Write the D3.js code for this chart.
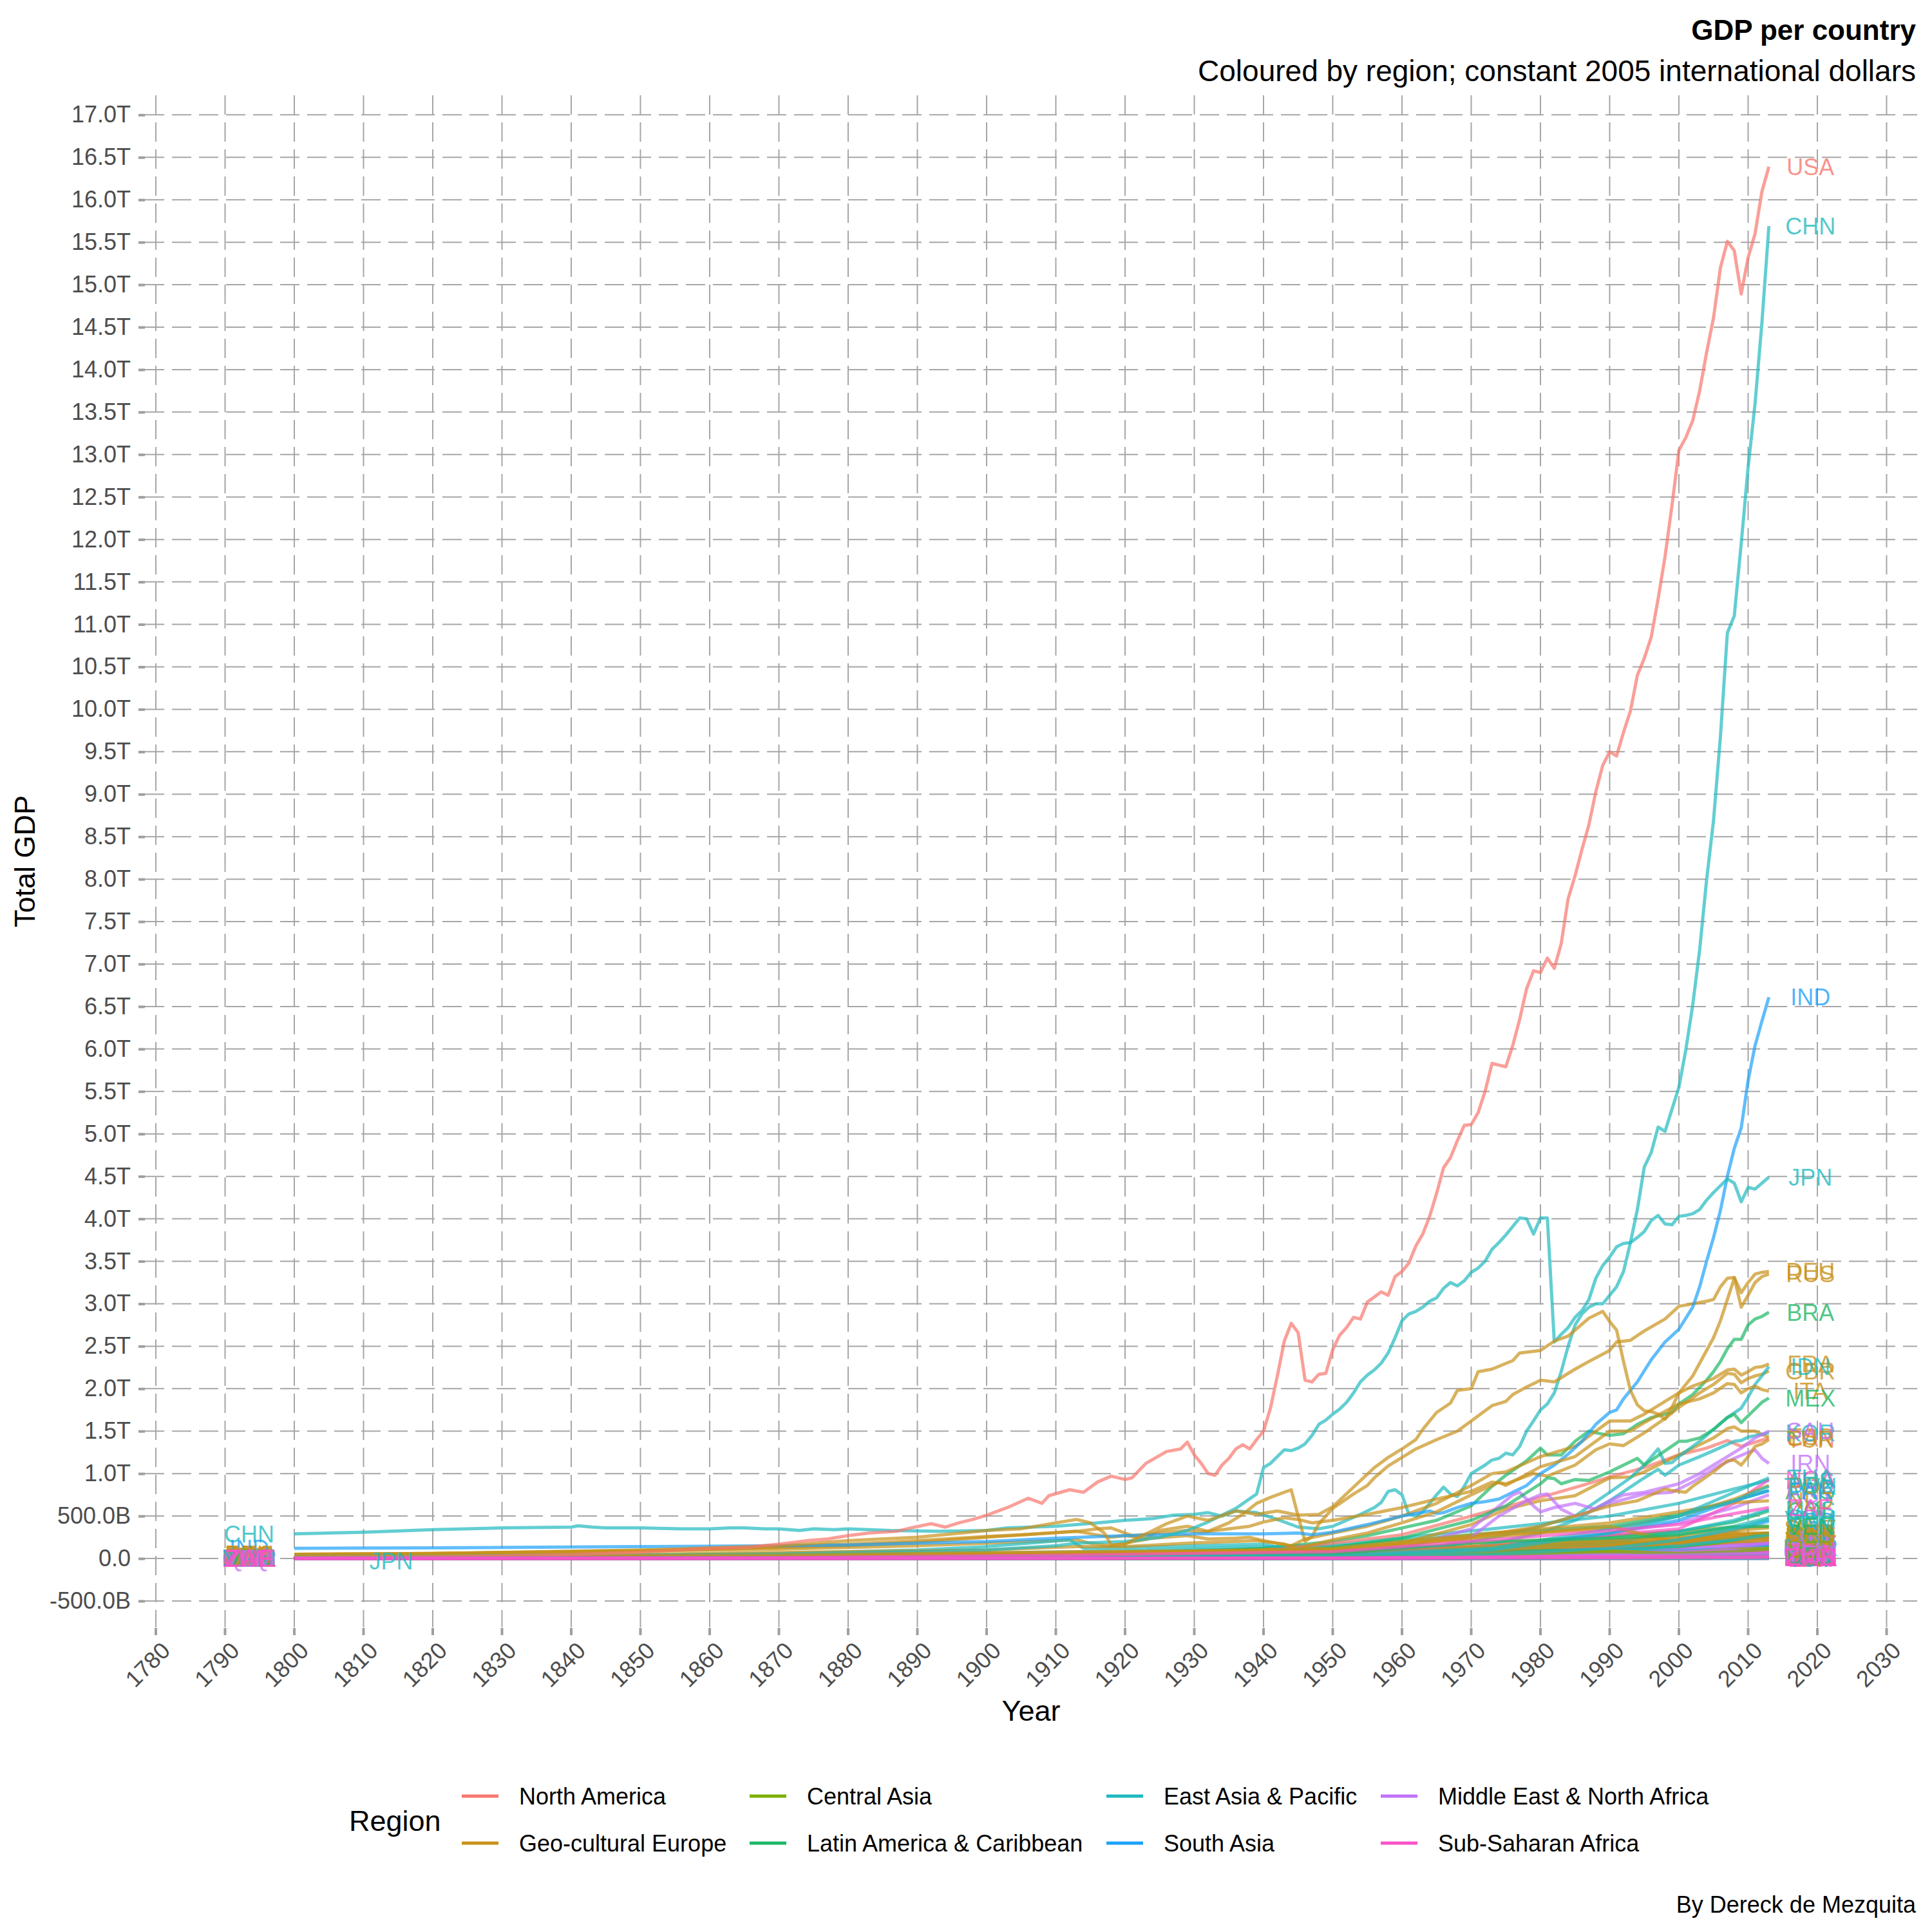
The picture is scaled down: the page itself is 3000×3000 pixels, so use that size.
<!DOCTYPE html>
<html>
<head>
<meta charset="utf-8">
<script src="https://cdn.jsdelivr.net/npm/d3@7"></script>
<style>
    body { margin: 0; background: #ffffff; }
    text { font-family: "Liberation Sans", Arial, Helvetica, sans-serif; }
</style>
</head>
<body>
<div id="chartDiv"></div>
<script>
// Regions (legend order) and their colours
const regionKeys = ["na", "eu", "ca", "la", "ea", "sa", "me", "ssa"];
const regionNames = ["North America", "Geo-cultural Europe", "Central Asia", "Latin America & Caribbean",
    "East Asia & Pacific", "South Asia", "Middle East & North Africa", "Sub-Saharan Africa"];
const regionColors = ["#F8766D", "#C8921A", "#7CAE00", "#1DB865", "#1FB9BF", "#1DA1F9", "#C271FB", "#F952C6"];

// Axis ticks
const yearTicks = d3.range(1780, 2031, 10);
const gdpTicks = d3.range(-1, 35).map(d => d / 2);   // trillions, -0.5 .. 17.0

// Total GDP, trillions of constant 2005 intl dollars: [year, value]
const usa = [[1800,0.012],[1820,0.02],[1840,0.045],[1850,0.075],[1860,0.12],[1865,0.13],[1870,0.17],[1874,0.21],[1877,0.23],[1880,0.27],[1883,0.3],[1887,0.32],[1889,0.36],[1892,0.41],[1894,0.37],[1896,0.42],[1898,0.46],[1900,0.51],[1903,0.6],[1906,0.71],[1908,0.65],[1909,0.74],[1912,0.81],[1914,0.78],[1916,0.9],[1918,0.97],[1920,0.93],[1921,0.95],[1923,1.12],[1926,1.26],[1928,1.29],[1929,1.37],[1930,1.22],[1931,1.12],[1932,1.0],[1933,0.98],[1934,1.1],[1935,1.18],[1936,1.29],[1937,1.34],[1938,1.29],[1939,1.4],[1940,1.5],[1941,1.77],[1942,2.15],[1943,2.56],[1944,2.77],[1945,2.66],[1946,2.1],[1947,2.08],[1948,2.17],[1949,2.18],[1950,2.46],[1951,2.63],[1952,2.72],[1953,2.84],[1954,2.82],[1955,3.02],[1956,3.08],[1957,3.14],[1958,3.1],[1959,3.32],[1960,3.38],[1961,3.48],[1962,3.68],[1963,3.82],[1964,4.03],[1965,4.3],[1966,4.6],[1967,4.72],[1968,4.92],[1969,5.1],[1970,5.11],[1971,5.25],[1972,5.5],[1973,5.83],[1974,5.81],[1975,5.79],[1976,6.04],[1977,6.35],[1978,6.71],[1979,6.92],[1980,6.9],[1981,7.07],[1982,6.95],[1983,7.24],[1984,7.77],[1985,8.04],[1986,8.35],[1987,8.64],[1988,9.03],[1989,9.34],[1990,9.5],[1991,9.45],[1992,9.73],[1993,9.98],[1994,10.4],[1995,10.6],[1996,10.85],[1997,11.3],[1998,11.8],[1999,12.4],[2000,13.05],[2001,13.2],[2002,13.4],[2003,13.75],[2004,14.2],[2005,14.61],[2006,15.2],[2007,15.51],[2008,15.4],[2009,14.89],[2010,15.32],[2011,15.6],[2012,16.1],[2013,16.39]];
const chn = [[1800,0.29],[1810,0.31],[1820,0.34],[1830,0.36],[1840,0.37],[1841,0.385],[1843,0.37],[1845,0.36],[1850,0.36],[1853,0.355],[1856,0.35],[1860,0.35],[1863,0.36],[1865,0.36],[1868,0.35],[1870,0.35],[1873,0.33],[1875,0.35],[1878,0.34],[1880,0.35],[1886,0.33],[1893,0.32],[1900,0.33],[1903,0.36],[1910,0.38],[1916,0.42],[1920,0.45],[1924,0.47],[1927,0.51],[1930,0.52],[1932,0.54],[1934,0.5],[1936,0.56],[1939,0.54],[1942,0.46],[1945,0.37],[1948,0.35],[1950,0.38],[1952,0.45],[1954,0.52],[1956,0.6],[1957,0.66],[1958,0.79],[1959,0.81],[1960,0.75],[1961,0.52],[1962,0.5],[1963,0.55],[1964,0.65],[1965,0.75],[1966,0.84],[1967,0.76],[1968,0.73],[1969,0.85],[1970,1.0],[1971,1.05],[1972,1.1],[1973,1.16],[1974,1.18],[1975,1.24],[1976,1.22],[1977,1.32],[1978,1.5],[1979,1.62],[1980,1.75],[1981,1.82],[1982,1.95],[1983,2.2],[1984,2.5],[1985,2.75],[1986,2.88],[1987,2.96],[1988,3.0],[1989,3.0],[1990,3.1],[1991,3.2],[1992,3.38],[1993,3.72],[1994,4.11],[1995,4.61],[1996,4.78],[1997,5.08],[1998,5.03],[1999,5.29],[2000,5.55],[2001,5.99],[2002,6.52],[2003,7.17],[2004,7.99],[2005,8.69],[2006,9.68],[2007,10.9],[2008,11.1],[2009,11.95],[2010,12.85],[2011,13.6],[2012,14.56],[2013,15.69]];
const jpn = [[1800,0.03],[1850,0.04],[1870,0.05],[1890,0.08],[1900,0.1],[1910,0.15],[1913,0.18],[1920,0.2],[1925,0.25],[1929,0.33],[1932,0.43],[1936,0.59],[1939,0.76],[1940,1.07],[1941,1.12],[1943,1.28],[1944,1.27],[1945,1.3],[1946,1.35],[1947,1.45],[1948,1.58],[1949,1.63],[1950,1.7],[1951,1.76],[1952,1.84],[1953,1.95],[1954,2.08],[1955,2.16],[1956,2.22],[1957,2.3],[1958,2.42],[1959,2.6],[1960,2.8],[1961,2.88],[1962,2.91],[1963,2.96],[1964,3.03],[1965,3.07],[1966,3.18],[1967,3.25],[1968,3.21],[1969,3.27],[1970,3.37],[1971,3.42],[1972,3.5],[1973,3.64],[1974,3.72],[1975,3.81],[1976,3.91],[1977,4.01],[1978,4.0],[1979,3.82],[1980,4.01],[1981,4.01],[1982,2.55],[1983,2.64],[1984,2.72],[1985,2.84],[1986,2.92],[1987,3.05],[1988,3.3],[1989,3.45],[1990,3.55],[1991,3.67],[1992,3.71],[1993,3.72],[1994,3.78],[1995,3.85],[1996,3.98],[1997,4.04],[1998,3.94],[1999,3.93],[2000,4.03],[2001,4.04],[2002,4.06],[2003,4.11],[2004,4.22],[2005,4.31],[2006,4.39],[2007,4.47],[2008,4.42],[2009,4.2],[2010,4.37],[2011,4.35],[2012,4.42],[2013,4.49]];
const ind = [[1800,0.12],[1820,0.125],[1850,0.14],[1870,0.15],[1880,0.16],[1890,0.18],[1900,0.2],[1910,0.24],[1920,0.27],[1930,0.29],[1940,0.29],[1945,0.3],[1947,0.28],[1950,0.31],[1955,0.4],[1960,0.5],[1964,0.56],[1965,0.53],[1966,0.54],[1968,0.6],[1970,0.65],[1972,0.67],[1974,0.7],[1976,0.78],[1978,0.86],[1980,1.0],[1982,1.1],[1984,1.23],[1986,1.38],[1988,1.58],[1990,1.72],[1991,1.75],[1992,1.88],[1994,2.08],[1996,2.34],[1998,2.55],[2000,2.7],[2002,2.96],[2003,3.2],[2004,3.5],[2005,3.78],[2006,4.1],[2007,4.5],[2008,4.83],[2009,5.07],[2010,5.63],[2011,6.04],[2012,6.33],[2013,6.61]];
const rus = [[1800,0.05],[1820,0.06],[1850,0.1],[1870,0.15],[1880,0.21],[1890,0.25],[1900,0.33],[1905,0.35],[1910,0.42],[1913,0.46],[1915,0.42],[1917,0.3],[1918,0.16],[1920,0.17],[1922,0.25],[1926,0.41],[1929,0.5],[1932,0.45],[1936,0.56],[1939,0.52],[1942,0.56],[1945,0.51],[1948,0.52],[1950,0.61],[1953,0.84],[1956,1.07],[1958,1.19],[1960,1.29],[1962,1.4],[1963,1.52],[1965,1.72],[1967,1.83],[1968,1.98],[1970,2.0],[1971,2.2],[1973,2.23],[1976,2.33],[1977,2.42],[1980,2.45],[1982,2.56],[1984,2.62],[1986,2.76],[1987,2.83],[1989,2.91],[1990,2.79],[1991,2.69],[1992,2.32],[1993,1.98],[1994,1.81],[1995,1.74],[1996,1.73],[1997,1.7],[1998,1.64],[1999,1.78],[2000,1.95],[2001,2.05],[2002,2.15],[2003,2.3],[2004,2.45],[2005,2.6],[2006,2.8],[2007,3.05],[2008,3.3],[2009,2.96],[2010,3.1],[2011,3.25],[2012,3.32],[2013,3.35]];
const deu = [[1800,0.05],[1820,0.06],[1850,0.09],[1870,0.13],[1880,0.15],[1890,0.19],[1900,0.25],[1913,0.32],[1918,0.25],[1920,0.27],[1923,0.24],[1925,0.33],[1929,0.38],[1932,0.32],[1935,0.42],[1937,0.52],[1939,0.65],[1941,0.72],[1944,0.81],[1945,0.5],[1946,0.2],[1947,0.26],[1948,0.41],[1950,0.59],[1953,0.76],[1955,0.86],[1956,0.95],[1958,1.09],[1960,1.19],[1962,1.29],[1965,1.4],[1968,1.5],[1970,1.62],[1973,1.8],[1975,1.85],[1976,1.93],[1978,2.02],[1980,2.1],[1982,2.08],[1985,2.23],[1987,2.32],[1990,2.45],[1991,2.55],[1993,2.57],[1995,2.68],[1998,2.82],[2000,2.97],[2002,3.0],[2004,3.03],[2005,3.05],[2006,3.2],[2007,3.3],[2008,3.31],[2009,3.13],[2010,3.25],[2011,3.35],[2012,3.37],[2013,3.38]];
const gbr = [[1800,0.04],[1820,0.05],[1850,0.09],[1870,0.14],[1880,0.17],[1890,0.21],[1900,0.26],[1905,0.28],[1913,0.32],[1916,0.35],[1918,0.36],[1920,0.3],[1921,0.27],[1925,0.3],[1929,0.33],[1931,0.31],[1935,0.35],[1938,0.38],[1940,0.43],[1943,0.48],[1945,0.46],[1947,0.42],[1950,0.45],[1955,0.52],[1960,0.6],[1965,0.7],[1970,0.79],[1973,0.9],[1975,0.88],[1979,1.0],[1981,0.97],[1985,1.1],[1988,1.28],[1990,1.35],[1992,1.33],[1995,1.48],[1998,1.65],[2000,1.78],[2003,1.95],[2005,2.05],[2007,2.18],[2008,2.17],[2009,2.07],[2010,2.12],[2011,2.15],[2012,2.17],[2013,2.21]];
const fra = [[1800,0.05],[1820,0.06],[1850,0.09],[1870,0.11],[1880,0.13],[1890,0.15],[1900,0.18],[1913,0.22],[1915,0.18],[1918,0.15],[1920,0.18],[1924,0.24],[1929,0.27],[1932,0.23],[1936,0.24],[1938,0.25],[1940,0.21],[1944,0.15],[1946,0.23],[1950,0.3],[1955,0.38],[1960,0.5],[1965,0.65],[1970,0.86],[1973,1.0],[1975,1.02],[1980,1.2],[1985,1.32],[1990,1.62],[1993,1.62],[1995,1.7],[2000,1.95],[2002,2.03],[2005,2.12],[2007,2.22],[2008,2.23],[2009,2.16],[2010,2.2],[2011,2.25],[2012,2.26],[2013,2.29]];
const ita = [[1800,0.03],[1850,0.05],[1870,0.07],[1900,0.1],[1913,0.14],[1920,0.14],[1929,0.18],[1939,0.21],[1943,0.17],[1945,0.11],[1947,0.16],[1950,0.22],[1955,0.3],[1960,0.42],[1965,0.55],[1970,0.75],[1974,0.9],[1975,0.86],[1980,1.08],[1985,1.2],[1990,1.5],[1993,1.5],[1995,1.6],[2000,1.82],[2003,1.88],[2005,1.95],[2007,2.06],[2008,2.05],[2009,1.95],[2010,2.0],[2011,2.03],[2012,1.99],[2013,1.97]];
const bra = [[1800,0.012],[1850,0.02],[1900,0.04],[1920,0.06],[1930,0.08],[1940,0.12],[1950,0.2],[1955,0.27],[1960,0.36],[1965,0.45],[1970,0.62],[1973,0.85],[1975,0.98],[1978,1.15],[1980,1.3],[1981,1.22],[1983,1.22],[1985,1.38],[1987,1.5],[1988,1.48],[1990,1.45],[1992,1.47],[1994,1.58],[1996,1.66],[1998,1.7],[1999,1.72],[2000,1.82],[2002,1.93],[2004,2.1],[2005,2.2],[2006,2.32],[2007,2.47],[2008,2.58],[2009,2.58],[2010,2.75],[2011,2.82],[2012,2.85],[2013,2.9]];
const mex = [[1800,0.01],[1870,0.015],[1900,0.03],[1910,0.04],[1920,0.035],[1930,0.05],[1940,0.07],[1950,0.13],[1960,0.24],[1970,0.45],[1975,0.62],[1980,0.88],[1981,0.95],[1982,0.94],[1983,0.88],[1985,0.93],[1987,0.92],[1990,1.02],[1994,1.18],[1995,1.1],[2000,1.38],[2001,1.38],[2003,1.42],[2005,1.52],[2007,1.66],[2008,1.7],[2009,1.6],[2010,1.68],[2011,1.76],[2012,1.84],[2013,1.89]];
const idn = [[1800,0.02],[1850,0.04],[1870,0.06],[1890,0.1],[1900,0.14],[1912,0.22],[1914,0.12],[1920,0.13],[1930,0.15],[1940,0.17],[1945,0.08],[1950,0.09],[1960,0.13],[1966,0.14],[1970,0.2],[1975,0.28],[1980,0.38],[1985,0.5],[1990,0.78],[1993,0.95],[1995,1.1],[1997,1.29],[1998,1.12],[1999,1.13],[2000,1.2],[2003,1.38],[2005,1.52],[2007,1.66],[2009,1.77],[2010,1.9],[2011,2.05],[2012,2.15],[2013,2.26]];
const kor = [[1800,0.008],[1870,0.01],[1913,0.02],[1940,0.04],[1950,0.03],[1960,0.05],[1970,0.12],[1980,0.3],[1985,0.45],[1990,0.68],[1995,0.95],[1997,1.05],[1998,0.98],[2000,1.1],[2003,1.2],[2005,1.27],[2008,1.38],[2009,1.39],[2010,1.43],[2013,1.48]];
const sau = [[1800,0.001],[1900,0.003],[1950,0.04],[1960,0.08],[1965,0.13],[1970,0.25],[1974,0.5],[1978,0.68],[1980,0.75],[1981,0.76],[1983,0.58],[1985,0.5],[1987,0.55],[1990,0.68],[1992,0.75],[1995,0.78],[2000,0.88],[2003,1.0],[2005,1.1],[2007,1.2],[2009,1.3],[2011,1.42],[2013,1.5]];
const irn = [[1800,0.01],[1870,0.015],[1913,0.025],[1950,0.05],[1960,0.12],[1970,0.35],[1976,0.75],[1977,0.78],[1979,0.62],[1980,0.55],[1982,0.6],[1985,0.65],[1988,0.58],[1990,0.65],[1995,0.76],[1999,0.78],[2002,0.9],[2004,1.0],[2006,1.1],[2008,1.18],[2010,1.25],[2011,1.28],[2012,1.18],[2013,1.12]];
const tur = [[1800,0.01],[1870,0.02],[1913,0.03],[1950,0.08],[1960,0.15],[1970,0.25],[1980,0.38],[1990,0.62],[1994,0.68],[1998,0.82],[1999,0.8],[2001,0.78],[2002,0.85],[2005,1.02],[2007,1.15],[2008,1.16],[2009,1.1],[2010,1.2],[2011,1.32],[2012,1.35],[2013,1.4]];
const esp = [[1800,0.02],[1870,0.04],[1913,0.07],[1936,0.09],[1939,0.07],[1950,0.1],[1960,0.18],[1970,0.4],[1975,0.58],[1980,0.68],[1985,0.74],[1990,0.95],[1993,0.96],[1995,1.02],[2000,1.22],[2005,1.42],[2007,1.53],[2008,1.55],[2009,1.5],[2011,1.5],[2012,1.46],[2013,1.43]];
const can = [[1800,0.002],[1870,0.01],[1913,0.04],[1929,0.07],[1933,0.05],[1944,0.13],[1950,0.18],[1960,0.28],[1970,0.5],[1980,0.72],[1986,0.86],[1990,0.96],[1995,1.07],[2000,1.22],[2004,1.3],[2007,1.39],[2009,1.32],[2013,1.42]];

const majorCountries = [
    ["USA", "na", usa], ["CHN", "ea", chn], ["JPN", "ea", jpn], ["IND", "sa", ind],
    ["RUS", "eu", rus], ["DEU", "eu", deu], ["GBR", "eu", gbr], ["FRA", "eu", fra],
    ["ITA", "eu", ita], ["BRA", "la", bra], ["MEX", "la", mex], ["IDN", "ea", idn],
    ["KOR", "ea", kor], ["SAU", "me", sau], ["IRN", "me", irn], ["TUR", "eu", tur],
    ["ESP", "eu", esp], ["CAN", "na", can]
];

// Smaller countries, read at these years only
const smallYears = [1800, 1870, 1913, 1950, 1973, 1990, 2000, 2008, 2013];
const smallCountries = [
    ["THA","ea",[0.008,0.012,0.02,0.04,0.12,0.35,0.5,0.78,0.95]],
    ["NGA","ssa",[0.01,0.015,0.025,0.05,0.15,0.28,0.35,0.65,0.93]],
    ["AUS","ea",[0.002,0.03,0.08,0.16,0.35,0.5,0.65,0.82,0.92]],
    ["POL","eu",[0.02,0.04,0.08,0.1,0.28,0.35,0.5,0.7,0.86]],
    ["PAK","sa",[0.01,0.015,0.03,0.05,0.13,0.3,0.45,0.68,0.8]],
    ["ARG","la",[0.002,0.01,0.06,0.14,0.3,0.38,0.52,0.68,0.8]],
    ["EGY","me",[0.01,0.015,0.03,0.05,0.12,0.3,0.42,0.6,0.75]],
    ["NLD","eu",[0.01,0.02,0.06,0.12,0.3,0.42,0.55,0.66,0.68]],
    ["ZAF","ssa",[0.005,0.01,0.04,0.08,0.22,0.33,0.4,0.53,0.6]],
    ["MYS","ea",[0.003,0.005,0.015,0.03,0.08,0.18,0.32,0.45,0.58]],
    ["COL","la",[0.003,0.005,0.015,0.05,0.14,0.26,0.32,0.43,0.56]],
    ["VNM","ea",[0.008,0.01,0.02,0.03,0.05,0.12,0.22,0.35,0.46]],
    ["PHL","ea",[0.005,0.008,0.02,0.04,0.12,0.22,0.28,0.38,0.48]],
    ["BGD","sa",[0.008,0.01,0.02,0.04,0.07,0.14,0.22,0.33,0.44]],
    ["TWN","ea",[0.003,0.005,0.01,0.02,0.1,0.3,0.5,0.68,0.85]],
    ["VEN","la",[0.002,0.003,0.01,0.06,0.2,0.24,0.28,0.37,0.38]],
    ["UKR","eu",[0.01,0.02,0.05,0.1,0.25,0.38,0.18,0.3,0.3]],
    ["BEL","eu",[0.005,0.015,0.04,0.06,0.18,0.27,0.32,0.37,0.38]],
    ["SWE","eu",[0.004,0.008,0.02,0.05,0.15,0.22,0.26,0.33,0.36]],
    ["CHE","eu",[0.003,0.008,0.02,0.05,0.13,0.19,0.22,0.27,0.3]],
    ["AUT","eu",[0.004,0.01,0.025,0.03,0.12,0.2,0.24,0.28,0.3]],
    ["DZA","me",[0.003,0.005,0.01,0.03,0.08,0.15,0.17,0.23,0.27]],
    ["PER","la",[0.002,0.004,0.01,0.03,0.09,0.1,0.14,0.22,0.3]],
    ["CHL","la",[0.002,0.004,0.015,0.03,0.06,0.1,0.16,0.22,0.28]],
    ["IRQ","me",[0.002,0.003,0.005,0.02,0.1,0.12,0.06,0.1,0.2]],
    ["GRC","eu",[0.003,0.005,0.01,0.03,0.11,0.17,0.2,0.3,0.24]],
    ["ARE","me",[0.0005,0.001,0.002,0.005,0.08,0.12,0.16,0.24,0.28]],
    ["KAZ","ca",[0.002,0.004,0.01,0.04,0.15,0.2,0.12,0.21,0.26]],
    ["ISR","me",[0.0005,0.001,0.002,0.01,0.07,0.12,0.17,0.2,0.24]],
    ["PRT","eu",[0.005,0.008,0.015,0.03,0.1,0.17,0.21,0.24,0.22]],
    ["CZE","eu",[0.005,0.01,0.03,0.06,0.12,0.17,0.18,0.24,0.24]],
    ["ROU","eu",[0.005,0.01,0.03,0.04,0.13,0.2,0.16,0.25,0.26]],
    ["DNK","eu",[0.003,0.005,0.01,0.03,0.1,0.14,0.17,0.19,0.18]],
    ["NOR","eu",[0.002,0.003,0.008,0.02,0.08,0.14,0.18,0.2,0.21]],
    ["FIN","eu",[0.002,0.003,0.006,0.02,0.08,0.13,0.15,0.18,0.18]],
    ["HUN","eu",[0.004,0.008,0.02,0.04,0.1,0.14,0.14,0.18,0.17]],
    ["MAR","me",[0.003,0.005,0.01,0.02,0.05,0.09,0.11,0.16,0.19]],
    ["SGP","ea",[0.0002,0.0005,0.002,0.006,0.03,0.08,0.15,0.22,0.28]],
    ["HKG","ea",[0.0002,0.0005,0.002,0.01,0.06,0.13,0.18,0.24,0.27]],
    ["IRL","eu",[0.003,0.005,0.01,0.02,0.04,0.07,0.13,0.18,0.17]],
    ["NZL","ea",[0.0005,0.003,0.01,0.03,0.06,0.07,0.09,0.11,0.12]],
    ["KWT","me",[0.0002,0.0003,0.0005,0.01,0.12,0.06,0.11,0.15,0.17]],
    ["QAT","me",[0.0001,0.0002,0.0003,0.002,0.03,0.02,0.05,0.13,0.18]],
    ["CUB","la",[0.002,0.006,0.015,0.03,0.06,0.1,0.08,0.11,0.12]],
    ["ECU","la",[0.001,0.002,0.005,0.01,0.04,0.07,0.08,0.12,0.14]],
    ["LKA","sa",[0.002,0.004,0.01,0.02,0.04,0.06,0.09,0.12,0.16]],
    ["BLR","eu",[0.003,0.006,0.015,0.03,0.08,0.1,0.07,0.12,0.14]],
    ["UZB","ca",[0.004,0.006,0.01,0.02,0.05,0.08,0.06,0.08,0.11]],
    ["SYR","me",[0.002,0.003,0.005,0.01,0.03,0.06,0.08,0.1,0.05]],
    ["ETH","ssa",[0.005,0.008,0.01,0.015,0.03,0.04,0.05,0.08,0.12]],
    ["KEN","ssa",[0.002,0.003,0.005,0.01,0.025,0.045,0.05,0.065,0.08]],
    ["SDN","ssa",[0.003,0.004,0.006,0.01,0.02,0.03,0.05,0.08,0.09]],
    ["AGO","ssa",[0.002,0.003,0.005,0.01,0.04,0.04,0.045,0.1,0.13]],
    ["OMN","me",[0.0005,0.0008,0.001,0.003,0.02,0.05,0.06,0.08,0.09]],
    ["TUN","me",[0.001,0.002,0.004,0.008,0.02,0.04,0.06,0.08,0.09]],
    ["DOM","la",[0.0005,0.001,0.003,0.006,0.02,0.04,0.06,0.09,0.11]],
    ["GTM","la",[0.001,0.002,0.004,0.01,0.03,0.04,0.055,0.07,0.08]],
    ["MMR","ea",[0.004,0.006,0.01,0.015,0.03,0.04,0.06,0.1,0.13]],
    ["PRK","ea",[0.003,0.004,0.008,0.015,0.06,0.07,0.04,0.04,0.04]],
    ["SVK","eu",[0.002,0.004,0.01,0.02,0.05,0.07,0.07,0.11,0.12]],
    ["BGR","eu",[0.002,0.004,0.01,0.02,0.06,0.09,0.06,0.09,0.09]],
    ["SRB","eu",[0.002,0.004,0.01,0.02,0.06,0.09,0.06,0.08,0.08]],
    ["LBY","me",[0.0005,0.0008,0.001,0.003,0.08,0.05,0.06,0.09,0.08]],
    ["AZE","ca",[0.001,0.002,0.004,0.01,0.03,0.05,0.03,0.07,0.09]],
    ["TKM","ca",[0.001,0.001,0.002,0.005,0.02,0.03,0.025,0.04,0.06]],
    ["GHA","ssa",[0.002,0.003,0.006,0.01,0.02,0.02,0.03,0.04,0.06]],
    ["TZA","ssa",[0.002,0.003,0.005,0.008,0.015,0.025,0.03,0.05,0.07]],
    ["CIV","ssa",[0.001,0.002,0.004,0.008,0.02,0.025,0.03,0.035,0.045]],
    ["CMR","ssa",[0.001,0.002,0.004,0.007,0.015,0.03,0.03,0.04,0.05]],
    ["UGA","ssa",[0.001,0.002,0.004,0.006,0.01,0.012,0.02,0.035,0.045]],
    ["COD","ssa",[0.003,0.005,0.008,0.015,0.025,0.02,0.012,0.018,0.025]],
    ["YEM","me",[0.001,0.002,0.003,0.005,0.015,0.03,0.04,0.055,0.055]],
    ["JOR","me",[0.0003,0.0005,0.001,0.002,0.008,0.015,0.02,0.03,0.035]],
    ["LBN","me",[0.0005,0.001,0.002,0.005,0.015,0.01,0.025,0.04,0.045]],
    ["NPL","sa",[0.002,0.003,0.005,0.008,0.012,0.02,0.03,0.035,0.04]],
    ["AFG","sa",[0.002,0.003,0.005,0.008,0.015,0.012,0.008,0.025,0.035]],
    ["KHM","ea",[0.001,0.002,0.003,0.005,0.006,0.007,0.012,0.025,0.032]],
    ["LAO","ea",[0.0005,0.0008,0.001,0.002,0.003,0.005,0.008,0.014,0.019]],
    ["MNG","ea",[0.0003,0.0005,0.001,0.002,0.004,0.008,0.007,0.01,0.014]],
    ["PNG","ea",[0.0005,0.001,0.002,0.003,0.008,0.01,0.012,0.013,0.017]],
    ["FJI","ea",[0.0001,0.0002,0.0005,0.001,0.002,0.003,0.003,0.004,0.004]],
    ["TUV","ea",[0.00001,0.00001,0.00002,0.00002,0.00003,0.00003,0.00003,0.00004,0.00004]],
    ["BOL","la",[0.001,0.002,0.004,0.008,0.015,0.02,0.03,0.04,0.05]],
    ["URY","la",[0.0003,0.001,0.005,0.01,0.014,0.018,0.025,0.03,0.04]],
    ["CRI","la",[0.0002,0.0004,0.001,0.003,0.01,0.016,0.028,0.038,0.046]],
    ["PAN","la",[0.0002,0.0004,0.001,0.002,0.008,0.012,0.02,0.032,0.048]],
    ["PRY","la",[0.0005,0.0008,0.002,0.004,0.008,0.015,0.02,0.027,0.034]],
    ["SLV","la",[0.0005,0.0008,0.002,0.004,0.01,0.012,0.018,0.021,0.022]],
    ["HND","la",[0.0005,0.0008,0.002,0.003,0.007,0.01,0.013,0.017,0.019]],
    ["NIC","la",[0.0003,0.0006,0.001,0.003,0.008,0.006,0.008,0.01,0.012]],
    ["HTI","la",[0.001,0.001,0.002,0.003,0.005,0.006,0.007,0.007,0.008]],
    ["JAM","la",[0.0005,0.0007,0.001,0.003,0.008,0.008,0.009,0.01,0.01]],
    ["TTO","la",[0.0001,0.0003,0.0007,0.002,0.008,0.01,0.015,0.025,0.028]],
    ["KGZ","ca",[0.0005,0.0008,0.001,0.003,0.008,0.012,0.008,0.011,0.013]],
    ["TJK","ca",[0.0005,0.0008,0.001,0.003,0.01,0.014,0.006,0.011,0.014]],
    ["HRV","eu",[0.002,0.003,0.006,0.01,0.04,0.06,0.055,0.075,0.07]],
    ["LTU","eu",[0.001,0.002,0.004,0.008,0.025,0.04,0.03,0.05,0.055]],
    ["SVN","eu",[0.001,0.001,0.003,0.005,0.02,0.03,0.035,0.05,0.048]],
    ["LVA","eu",[0.001,0.001,0.003,0.006,0.02,0.03,0.02,0.035,0.034]],
    ["EST","eu",[0.0005,0.001,0.002,0.004,0.012,0.018,0.016,0.027,0.027]],
    ["BIH","eu",[0.001,0.0015,0.003,0.005,0.015,0.02,0.02,0.03,0.03]],
    ["ALB","eu",[0.0005,0.001,0.002,0.003,0.008,0.012,0.012,0.02,0.024]],
    ["MKD","eu",[0.0005,0.001,0.002,0.003,0.01,0.015,0.015,0.02,0.021]],
    ["MDA","eu",[0.0005,0.001,0.002,0.004,0.01,0.017,0.007,0.01,0.011]],
    ["ARM","eu",[0.0005,0.0008,0.0015,0.003,0.01,0.015,0.008,0.017,0.018]],
    ["GEO","eu",[0.0008,0.001,0.002,0.004,0.015,0.025,0.01,0.02,0.024]],
    ["ISL","eu",[0.0001,0.0002,0.0005,0.002,0.005,0.008,0.009,0.012,0.012]],
    ["LUX","eu",[0.0002,0.0005,0.002,0.004,0.01,0.018,0.03,0.037,0.039]],
    ["CYP","eu",[0.0002,0.0003,0.0006,0.001,0.005,0.01,0.016,0.021,0.02]],
    ["MLT","eu",[0.0001,0.0002,0.0004,0.001,0.003,0.005,0.008,0.009,0.01]],
    ["BHR","me",[0.0001,0.0002,0.0003,0.001,0.006,0.012,0.018,0.026,0.031]],
    ["SEN","ssa",[0.001,0.0015,0.003,0.005,0.01,0.013,0.017,0.021,0.024]],
    ["ZMB","ssa",[0.0008,0.001,0.002,0.005,0.01,0.01,0.011,0.016,0.02]],
    ["ZWE","ssa",[0.001,0.0015,0.003,0.007,0.015,0.02,0.022,0.012,0.015]],
    ["SOM","ssa",[0.001,0.0015,0.002,0.003,0.005,0.006,0.004,0.005,0.006]],
    ["MOZ","ssa",[0.001,0.002,0.003,0.005,0.008,0.006,0.01,0.016,0.021]],
    ["MDG","ssa",[0.001,0.002,0.003,0.005,0.008,0.008,0.01,0.012,0.012]],
    ["MLI","ssa",[0.001,0.0015,0.002,0.003,0.005,0.007,0.009,0.013,0.015]],
    ["BFA","ssa",[0.001,0.0015,0.002,0.003,0.005,0.007,0.01,0.015,0.019]],
    ["NER","ssa",[0.001,0.0015,0.002,0.003,0.005,0.005,0.006,0.008,0.01]],
    ["MWI","ssa",[0.0005,0.001,0.0015,0.002,0.004,0.005,0.007,0.009,0.011]],
    ["RWA","ssa",[0.0005,0.001,0.0015,0.002,0.003,0.004,0.004,0.006,0.008]],
    ["BEN","ssa",[0.0005,0.001,0.0015,0.002,0.004,0.005,0.008,0.011,0.013]],
    ["TCD","ssa",[0.0005,0.001,0.0015,0.002,0.004,0.005,0.006,0.014,0.017]],
    ["GIN","ssa",[0.0005,0.001,0.0015,0.002,0.004,0.006,0.008,0.009,0.01]],
    ["BWA","ssa",[0.0001,0.0002,0.0003,0.0005,0.002,0.006,0.011,0.015,0.018]],
    ["NAM","ssa",[0.0001,0.0002,0.0005,0.001,0.004,0.006,0.008,0.011,0.013]],
    ["GAB","ssa",[0.0001,0.0002,0.0004,0.001,0.006,0.009,0.01,0.012,0.015]],
    ["MUS","ssa",[0.0001,0.0002,0.0003,0.001,0.002,0.006,0.009,0.012,0.015]],
    ["SLE","ssa",[0.0003,0.0005,0.0008,0.001,0.002,0.003,0.002,0.004,0.006]],
    ["LBR","ssa",[0.0003,0.0004,0.0006,0.001,0.002,0.001,0.001,0.0015,0.002]],
    ["SWZ","ssa",[0.0001,0.0002,0.0003,0.0005,0.002,0.004,0.005,0.006,0.006]],
    ["TGO","ssa",[0.0003,0.0005,0.0008,0.001,0.003,0.004,0.005,0.005,0.006]],
    ["ERI","ssa",[0.0003,0.0004,0.0006,0.001,0.002,0.002,0.003,0.003,0.003]]
];

class GdpChart {
    constructor(parentElement, countries) {
        this.parentElement = parentElement;
        this.countries = countries;
        this.initVis();
    }

    initVis() {
        let vis = this;

        vis.margin = {top: 148, right: 23, bottom: 473, left: 225};
        vis.width = 3000 - vis.margin.left - vis.margin.right;
        vis.height = 3000 - vis.margin.top - vis.margin.bottom;

        vis.svg = d3.select("#" + vis.parentElement).append("svg")
            .attr("width", 3000)
            .attr("height", 3000)
            .style("background", "#ffffff");

        vis.g = vis.svg.append("g")
            .attr("transform", "translate(" + vis.margin.left + "," + vis.margin.top + ")");

        vis.x = d3.scaleLinear().domain([1778.42, 2034.42]).range([0, vis.width]);
        vis.y = d3.scaleLinear().domain([-0.811, 17.23]).range([vis.height, 0]);

        vis.color = d3.scaleOrdinal().domain(regionKeys).range(regionColors);

        vis.wrangleData();
    }

    wrangleData() {
        let vis = this;
        // sort by country code, like ggplot draws groups
        vis.displayData = vis.countries.slice().sort((a, b) => d3.ascending(a.code, b.code));
        vis.updateVis();
    }

    fmtGdp(v) {
        if (Math.abs(v) < 1e-9) return "0.0";
        if (Math.abs(v) >= 1) return v.toFixed(1) + "T";
        return (v * 1000).toFixed(1) + "B";
    }

    updateVis() {
        let vis = this;
        let gridColor = "#a6a6a6";

        // Grid lines
        vis.g.append("g").selectAll("line.vgrid")
            .data(yearTicks).enter().append("line")
            .attr("x1", d => vis.x(d)).attr("x2", d => vis.x(d))
            .attr("y1", 0).attr("y2", vis.height)
            .attr("stroke", gridColor).attr("stroke-width", 2)
            .attr("stroke-dasharray", "30,12");

        vis.g.append("g").selectAll("line.hgrid")
            .data(gdpTicks).enter().append("line")
            .attr("x1", 0).attr("x2", vis.width)
            .attr("y1", d => vis.y(d)).attr("y2", d => vis.y(d))
            .attr("stroke", gridColor).attr("stroke-width", 2)
            .attr("stroke-dasharray", "30,12");

        // Y axis
        vis.yAxis = d3.axisLeft(vis.y).tickValues(gdpTicks).tickSize(10).tickPadding(12)
            .tickFormat(d => vis.fmtGdp(d));
        let yg = vis.g.append("g").attr("class", "y-axis").call(vis.yAxis);
        yg.select(".domain").remove();
        yg.selectAll(".tick line").attr("stroke", "#9e9e9e").attr("stroke-width", 4);
        yg.selectAll(".tick text").attr("font-size", "36px").attr("fill", "#4d4d4d")
            .attr("font-family", "Liberation Sans, Arial, sans-serif");

        // X axis
        let xg = vis.g.append("g").attr("class", "x-axis")
            .attr("transform", "translate(0," + vis.height + ")");
        let xt = xg.selectAll("g.tick").data(yearTicks).enter().append("g")
            .attr("transform", d => "translate(" + vis.x(d) + ",0)");
        xt.append("line").attr("y1", 1).attr("y2", 12)
            .attr("stroke", "#9e9e9e").attr("stroke-width", 4);
        xt.append("text")
            .attr("transform", "translate(6,20) rotate(-45)")
            .attr("text-anchor", "end")
            .attr("dy", "0.72em")
            .attr("font-size", "36px")
            .attr("fill", "#4d4d4d")
            .text(d => d);

        // Lines
        vis.line = d3.line().x(d => vis.x(d[0])).y(d => vis.y(d[1]));

        vis.g.append("g").selectAll("path.country")
            .data(vis.displayData).enter().append("path")
            .attr("class", "country")
            .attr("d", d => vis.line(d.values))
            .attr("fill", "none")
            .attr("stroke", d => vis.color(d.region))
            .attr("stroke-width", 5)
            .attr("stroke-opacity", 0.7)
            .attr("stroke-linejoin", "round");

        // Labels at the end of each line
        vis.g.append("g").selectAll("text.end-label")
            .data(vis.displayData).enter().append("text")
            .attr("x", vis.x(2019))
            .attr("y", d => vis.y(d.values[d.values.length - 1][1]))
            .attr("dy", "0.36em")
            .attr("text-anchor", "middle")
            .attr("font-size", "36px")
            .attr("fill", d => vis.color(d.region))
            .attr("fill-opacity", 0.8)
            .text(d => d.code);

        // Labels at the start of each line
        let startNudge = {JPN: 20.5};
        vis.g.append("g").selectAll("text.start-label")
            .data(vis.displayData).enter().append("text")
            .attr("x", d => vis.x(1793.5 + (startNudge[d.code] || 0)))
            .attr("y", d => vis.y(d.values[0][1]) + (d.code === "JPN" ? 8 : 0))
            .attr("dy", "0.36em")
            .attr("text-anchor", "middle")
            .attr("font-size", "36px")
            .attr("fill", d => vis.color(d.region))
            .attr("fill-opacity", 0.8)
            .text(d => d.code);

        // Axis titles
        vis.svg.append("text")
            .attr("x", vis.margin.left + vis.width / 2)
            .attr("y", 2672)
            .attr("text-anchor", "middle")
            .attr("font-size", "45px")
            .text("Year");

        vis.svg.append("text")
            .attr("transform", "translate(54," + (vis.margin.top + vis.height / 2) + ") rotate(-90)")
            .attr("text-anchor", "middle")
            .attr("font-size", "45px")
            .text("Total GDP");

        // Title and subtitle
        vis.svg.append("text")
            .attr("x", 2975).attr("y", 62)
            .attr("text-anchor", "end")
            .attr("font-size", "44px")
            .attr("font-weight", "bold")
            .text("GDP per country");

        vis.svg.append("text")
            .attr("x", 2975).attr("y", 126)
            .attr("text-anchor", "end")
            .attr("font-size", "46px")
            .text("Coloured by region; constant 2005 international dollars");

        // Legend
        vis.legend = vis.svg.append("g");
        vis.legend.append("text")
            .attr("x", 542).attr("y", 2843)
            .attr("font-size", "45px")
            .text("Region");

        let colX = [717, 1164, 1718, 2144];
        let rowY = [2789, 2862];
        regionKeys.forEach(function(key, i) {
            let cx = colX[Math.floor(i / 2)];
            let cy = rowY[i % 2];
            vis.legend.append("line")
                .attr("x1", cx).attr("x2", cx + 57)
                .attr("y1", cy).attr("y2", cy)
                .attr("stroke", regionColors[i])
                .attr("stroke-width", 5);
            vis.legend.append("text")
                .attr("x", cx + 89).attr("y", cy + 13)
                .attr("font-size", "36px")
                .text(regionNames[i]);
        });

        // Caption
        vis.svg.append("text")
            .attr("x", 2975).attr("y", 2970)
            .attr("text-anchor", "end")
            .attr("font-size", "36px")
            .text("By Dereck de Mezquita");
    }
}

// Build the series list from the arrays above
let countries = majorCountries.map(d => ({code: d[0], region: d[1], values: d[2]}));
smallCountries.forEach(function(d) {
    countries.push({code: d[0], region: d[1], values: smallYears.map((yr, i) => [yr, d[2][i]])});
});

let chart = new GdpChart("chartDiv", countries);
</script>
</body>
</html>
